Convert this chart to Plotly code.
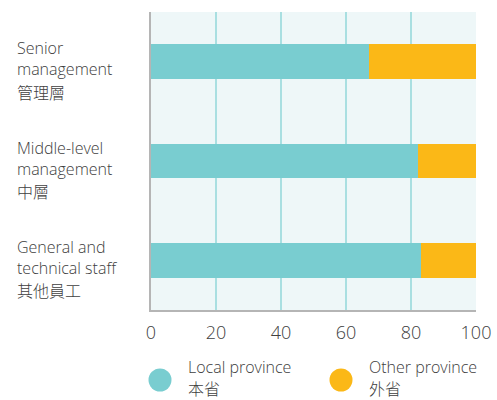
import plotly.graph_objects as go

categories_en = ["Senior<br>management", "Middle-level<br>management", "General and<br>technical staff"]
categories_zh = ["管理層", "中層", "其他員工"]
local_values = [67, 82, 83]
other_values = [33, 18, 17]
series_en = ["Local province", "Other province"]
series_zh = ["本省", "外省"]
x_ticks = [0, 20, 40, 60, 80, 100]

TEAL = "#79CDD0"
ORANGE = "#FBB817"
TXT = "#404040"
FONT = "Open Sans"
CJK = "Noto Sans CJK TC"

W, H = 497, 400
ML, MR, MT, MB = 151, 21, 12, 90
PW = W - ML - MR
PH = H - MT - MB

fig = go.Figure()
keys = [f"c{i}" for i in range(len(categories_en))]
fig.add_trace(go.Bar(y=keys, x=local_values, orientation="h", marker=dict(color=TEAL, line=dict(width=0)),
                     width=0.35, showlegend=False, name="Local province"))
fig.add_trace(go.Bar(y=keys, x=other_values, orientation="h", marker=dict(color=ORANGE, line=dict(width=0)),
                     width=0.35, showlegend=False, name="Other province"))

annotations = []
lx = (15 - ML) / PW
for k, en, zh in zip(keys, categories_en, categories_zh):
    annotations.append(dict(text=en, x=lx, xref="paper", y=k, yref="y", xanchor="left",
                            yanchor="middle", align="left", showarrow=False, yshift=3,
                            font=dict(family=FONT, size=16, color=TXT, weight=300)))
    annotations.append(dict(text=zh, x=lx, xref="paper", y=k, yref="y", xanchor="left",
                            yanchor="middle", align="left", showarrow=False, yshift=-30,
                            font=dict(family=CJK, size=16, color=TXT, weight=300)))

shapes = []
legend_pos = [(160, 186), (341, 367)]
for (cx, tx), en, zh, col in zip(legend_pos, series_en, series_zh, [TEAL, ORANGE]):
    py = (MT + PH - 380) / PH
    shapes.append(dict(type="circle", xref="paper", yref="paper", xsizemode="pixel", ysizemode="pixel",
                       xanchor=(cx - ML) / PW, yanchor=py, x0=-11.5, x1=11.5, y0=-11.5, y1=11.5,
                       fillcolor=col, line=dict(width=0)))
    annotations.append(dict(text=en, x=(tx - ML) / PW, xref="paper", y=(MT + PH - 367) / PH,
                            yref="paper", xanchor="left", yanchor="middle", align="left", showarrow=False,
                            font=dict(family=FONT, size=16, color=TXT, weight=300)))
    annotations.append(dict(text=zh, x=(tx - ML) / PW, xref="paper", y=(MT + PH - 388) / PH,
                            yref="paper", xanchor="left", yanchor="middle", align="left", showarrow=False,
                            font=dict(family=CJK, size=16, color=TXT, weight=300)))

fig.update_layout(
    width=W, height=H,
    margin=dict(l=ML, r=MR, t=MT, b=MB, pad=0),
    barmode="stack",
    paper_bgcolor="white",
    plot_bgcolor="#EEF7F8",
    font=dict(family=FONT, size=16, color=TXT),
    xaxis=dict(range=[0, 100], tickvals=x_ticks, ticktext=[str(t) for t in x_ticks],
               showgrid=True, gridcolor="#A9DFE1", gridwidth=1.7, zeroline=False, automargin=False,
               showline=True, linecolor="#B5B5B5", linewidth=1.5, ticks="", ticklen=0,
               ticklabelstandoff=6,
               tickfont=dict(family=FONT, size=18, color=TXT, weight=300)),
    yaxis=dict(autorange="reversed", showticklabels=False, showgrid=False, zeroline=False, automargin=False,
               showline=True, linecolor="#B5B5B5", linewidth=1.5, ticks=""),
    annotations=annotations,
    shapes=shapes,
    bargap=0.65,
)

fig.write_html("out.html", config={"displayModeBar": False},
               post_script="document.body.style.margin='0';")
